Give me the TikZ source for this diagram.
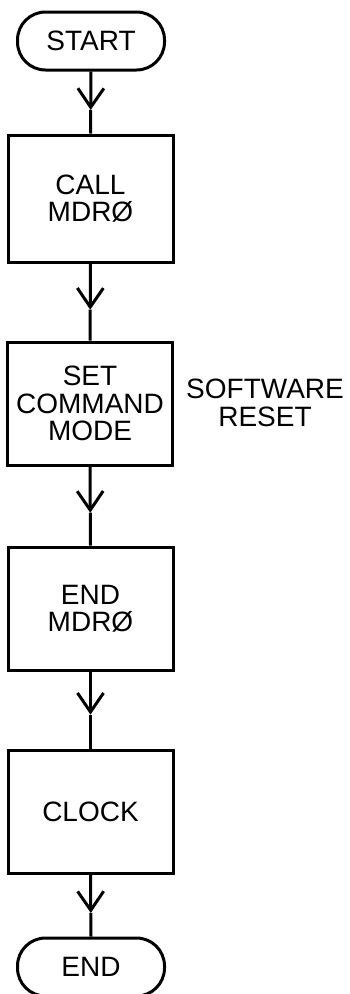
\documentclass[tikz,border=0pt]{standalone}
\usepackage{fontspec}
\setmainfont{Liberation Sans}
\usetikzlibrary{arrows.meta}
\begin{document}
\begin{tikzpicture}[x=1pt,y=-1pt,
  every node/.style={font=\fontsize{28}{27.5}\selectfont, align=center, inner sep=0pt},
  term/.style={draw, line width=3pt, rounded corners=28pt, minimum width=147pt, minimum height=58pt},
  proc/.style={draw, line width=3pt, minimum width=165pt, minimum height=124pt},
  flow/.style={line width=3pt},
  arr/.style={line width=3pt, -{Straight Barb[length=19pt,width=26pt]}}]
\useasboundingbox (0,0) rectangle (350,994);
\node[term] (start) at (91,41) {START};
\node[proc, minimum height=127pt] (b1) at (90.5,198.5) {CALL\\MDRØ};
\node[proc, minimum height=123pt] (b2) at (90,403.5) {SET\\COMMAND\\MODE};
\node[proc, minimum height=123pt] (b3) at (90.5,608.5) {END\\MDRØ};
\node[proc, minimum height=123pt] (b4) at (90.5,811.5) {CLOCK};
\node[term] (end) at (91,967) {END};
\node (lbl) at (265,403) {SOFTWARE\\RESET};
\path (start.south) -- coordinate[pos=0.62] (m1) (b1.north);
\path (b1.south) -- coordinate[pos=0.6] (m2) (b2.north);
\path (b2.south) -- coordinate[pos=0.585] (m3) (b3.north);
\path (b3.south) -- coordinate[pos=0.56] (m4) (b4.north);
\path (b4.south) -- coordinate[pos=0.62] (m5) (end.north);
\foreach \a/\m/\b in {start/m1/b1, b1/m2/b2, b2/m3/b3, b3/m4/b4, b4/m5/end}{
  \draw[arr] (\a.south) -- (\m);
  \draw[flow] (\m) -- (\b.north);
}
\end{tikzpicture}
\end{document}
